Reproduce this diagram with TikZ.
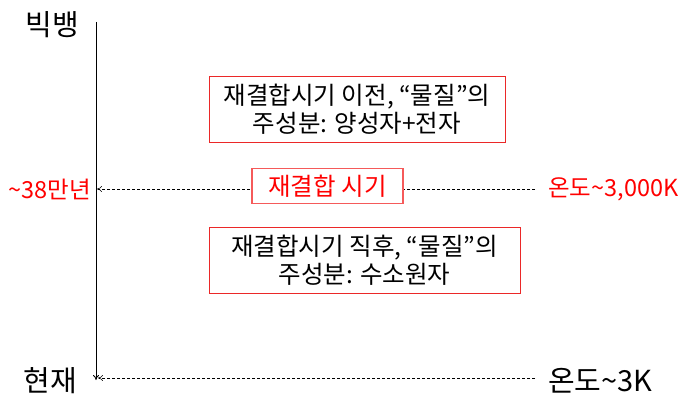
\documentclass[tikz,border=0pt]{standalone}
\usepackage{fontspec}
\setmainfont{Noto Sans CJK KR}
\usetikzlibrary{positioning,arrows.meta}

\definecolor{boxred}{RGB}{235,40,40}
\definecolor{tagred}{RGB}{245,90,90}
\newcommand{\tld}{\char"007E\relax}

\tikzset{
  era/.style={draw=boxred, line width=0.9pt, fill=white, align=center,
    font=\fontsize{24.5}{28}\selectfont, inner sep=0pt},
  bigtext/.style={font=\fontsize{29}{32}\selectfont, inner sep=0pt},
  redtext/.style={text=red, font=\fontsize{23.5}{28}\selectfont, inner sep=0pt},
  timeline/.style={densely dashed, line width=0.6pt, -{To[length=5pt,width=6pt]}}
}

\begin{document}
\begin{tikzpicture}[x=1pt,y=-1pt]
\useasboundingbox (0,0) rectangle (695,414);

% time axis
\coordinate (top) at (96,22);
\coordinate (now) at (96,380);
\draw[line width=0.8pt,-{To[length=5pt,width=6pt]}] (top) -- (now);

\node[bigtext] (bigbang) at (52,25) {빅뱅};
\node[bigtext] (present) at (50,381) {현재};

% recombination
\coordinate (rec) at (97,189);
\coordinate (rechot) at (535,189);
\draw[timeline] (rechot) -- (rec);
\node[era, draw=tagred, line width=1.4pt, text=red,
  minimum width=151pt, minimum height=35pt] (recomb) at (327.5,186) {재결합 시기};
\node[redtext, anchor=east] (age) at (91,189) {\tld38만년};
\node[redtext, anchor=west] (hot) at (548,189) {온도\tld3,000K};

% today
\coordinate (cmb) at (98,378);
\coordinate (cmbcold) at (535,378);
\draw[timeline] (cmbcold) -- (cmb);
\node[bigtext, anchor=west] (cold) at (548,381) {온도\tld3K};

% the two eras
\node[era, minimum width=296pt, minimum height=66pt] (before) at (357,109)
  {재결합시기 이전, “물질”의\\주성분: 양성자+전자};
\node[era, minimum width=311pt, minimum height=66pt] (after) at (364.5,260)
  {재결합시기 직후, “물질”의\\주성분: 수소원자};
\end{tikzpicture}
\end{document}
